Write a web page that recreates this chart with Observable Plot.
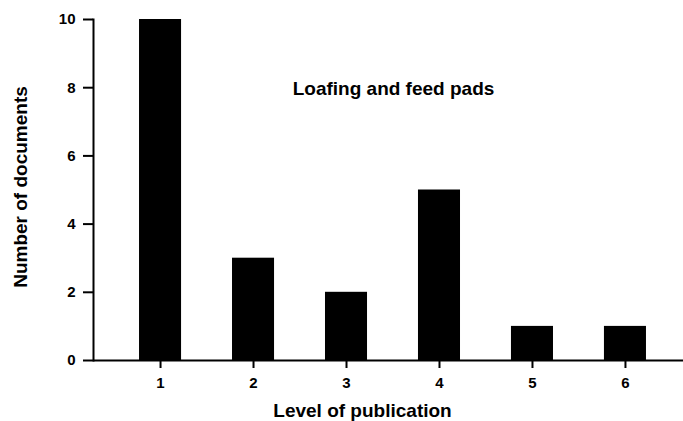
<!DOCTYPE html>
<html>
<head>
<meta charset="utf-8">
<script src="https://cdn.jsdelivr.net/npm/d3@7"></script>
<script src="https://cdn.jsdelivr.net/npm/@observablehq/plot@0.6"></script>
<style>
  html, body { margin: 0; padding: 0; background: #fff; }
  svg { font-family: "Liberation Sans", Arial, sans-serif; font-weight: bold; }
</style>
</head>
<body>
<div id="chart"></div>
<script>
const levels = ["1", "2", "3", "4", "5", "6"];
const documents = [10, 3, 2, 5, 1, 1];
const yTicks = [0, 2, 4, 6, 8, 10];
const annotation = ["Loafing and feed pads"];
const xTitle = "Level of publication";
const yTitle = "Number of documents";

const data = levels.map((l, i) => ({level: l, count: documents[i]}));

const chart = Plot.plot({
  width: 683,
  height: 421,
  marginLeft: 93,
  marginRight: 0,
  marginTop: 19,
  marginBottom: 61,
  style: {fontFamily: "Liberation Sans, Arial, sans-serif", fontWeight: "bold", fontSize: "15px", color: "#000", background: "#fff"},
  x: {domain: levels, range: [93, 692], paddingInner: 0.548, paddingOuter: 0.495, round: false},
  y: {domain: [0, 10]},
  marks: [
    Plot.barY(data, {x: "level", y: "count", fill: "#000"}),
    Plot.ruleY([0], {stroke: "#000", strokeWidth: 2}),
    Plot.frame({anchor: "left", stroke: "#000", strokeWidth: 2}),
    Plot.axisY(yTicks, {tickSize: 10, tickPadding: 8, fontSize: 15, fontWeight: "bold", stroke: "#000", fill: "#000", strokeWidth: 2, label: null}),
    Plot.axisX({tickSize: 8, tickPadding: 9, fontSize: 15, fontWeight: "bold", stroke: "#000", fill: "#000", strokeWidth: 2, label: null}),
    Plot.text([xTitle], {frameAnchor: "bottom", lineAnchor: "middle", dx: -26, dy: 50, fontSize: 19, fontWeight: "bold", fill: "#000"}),
    Plot.text([yTitle], {frameAnchor: "left", textAnchor: "middle", dx: -73, dy: -3, rotate: -90, fontSize: 19, fontWeight: "bold", fill: "#000"}),
    Plot.text(annotation, {frameAnchor: "top", lineAnchor: "middle", dx: 5, dy: 69, fontSize: 19, fontWeight: "bold", fill: "#000"})
  ]
});
document.getElementById("chart").appendChild(chart);
</script>
</body>
</html>
